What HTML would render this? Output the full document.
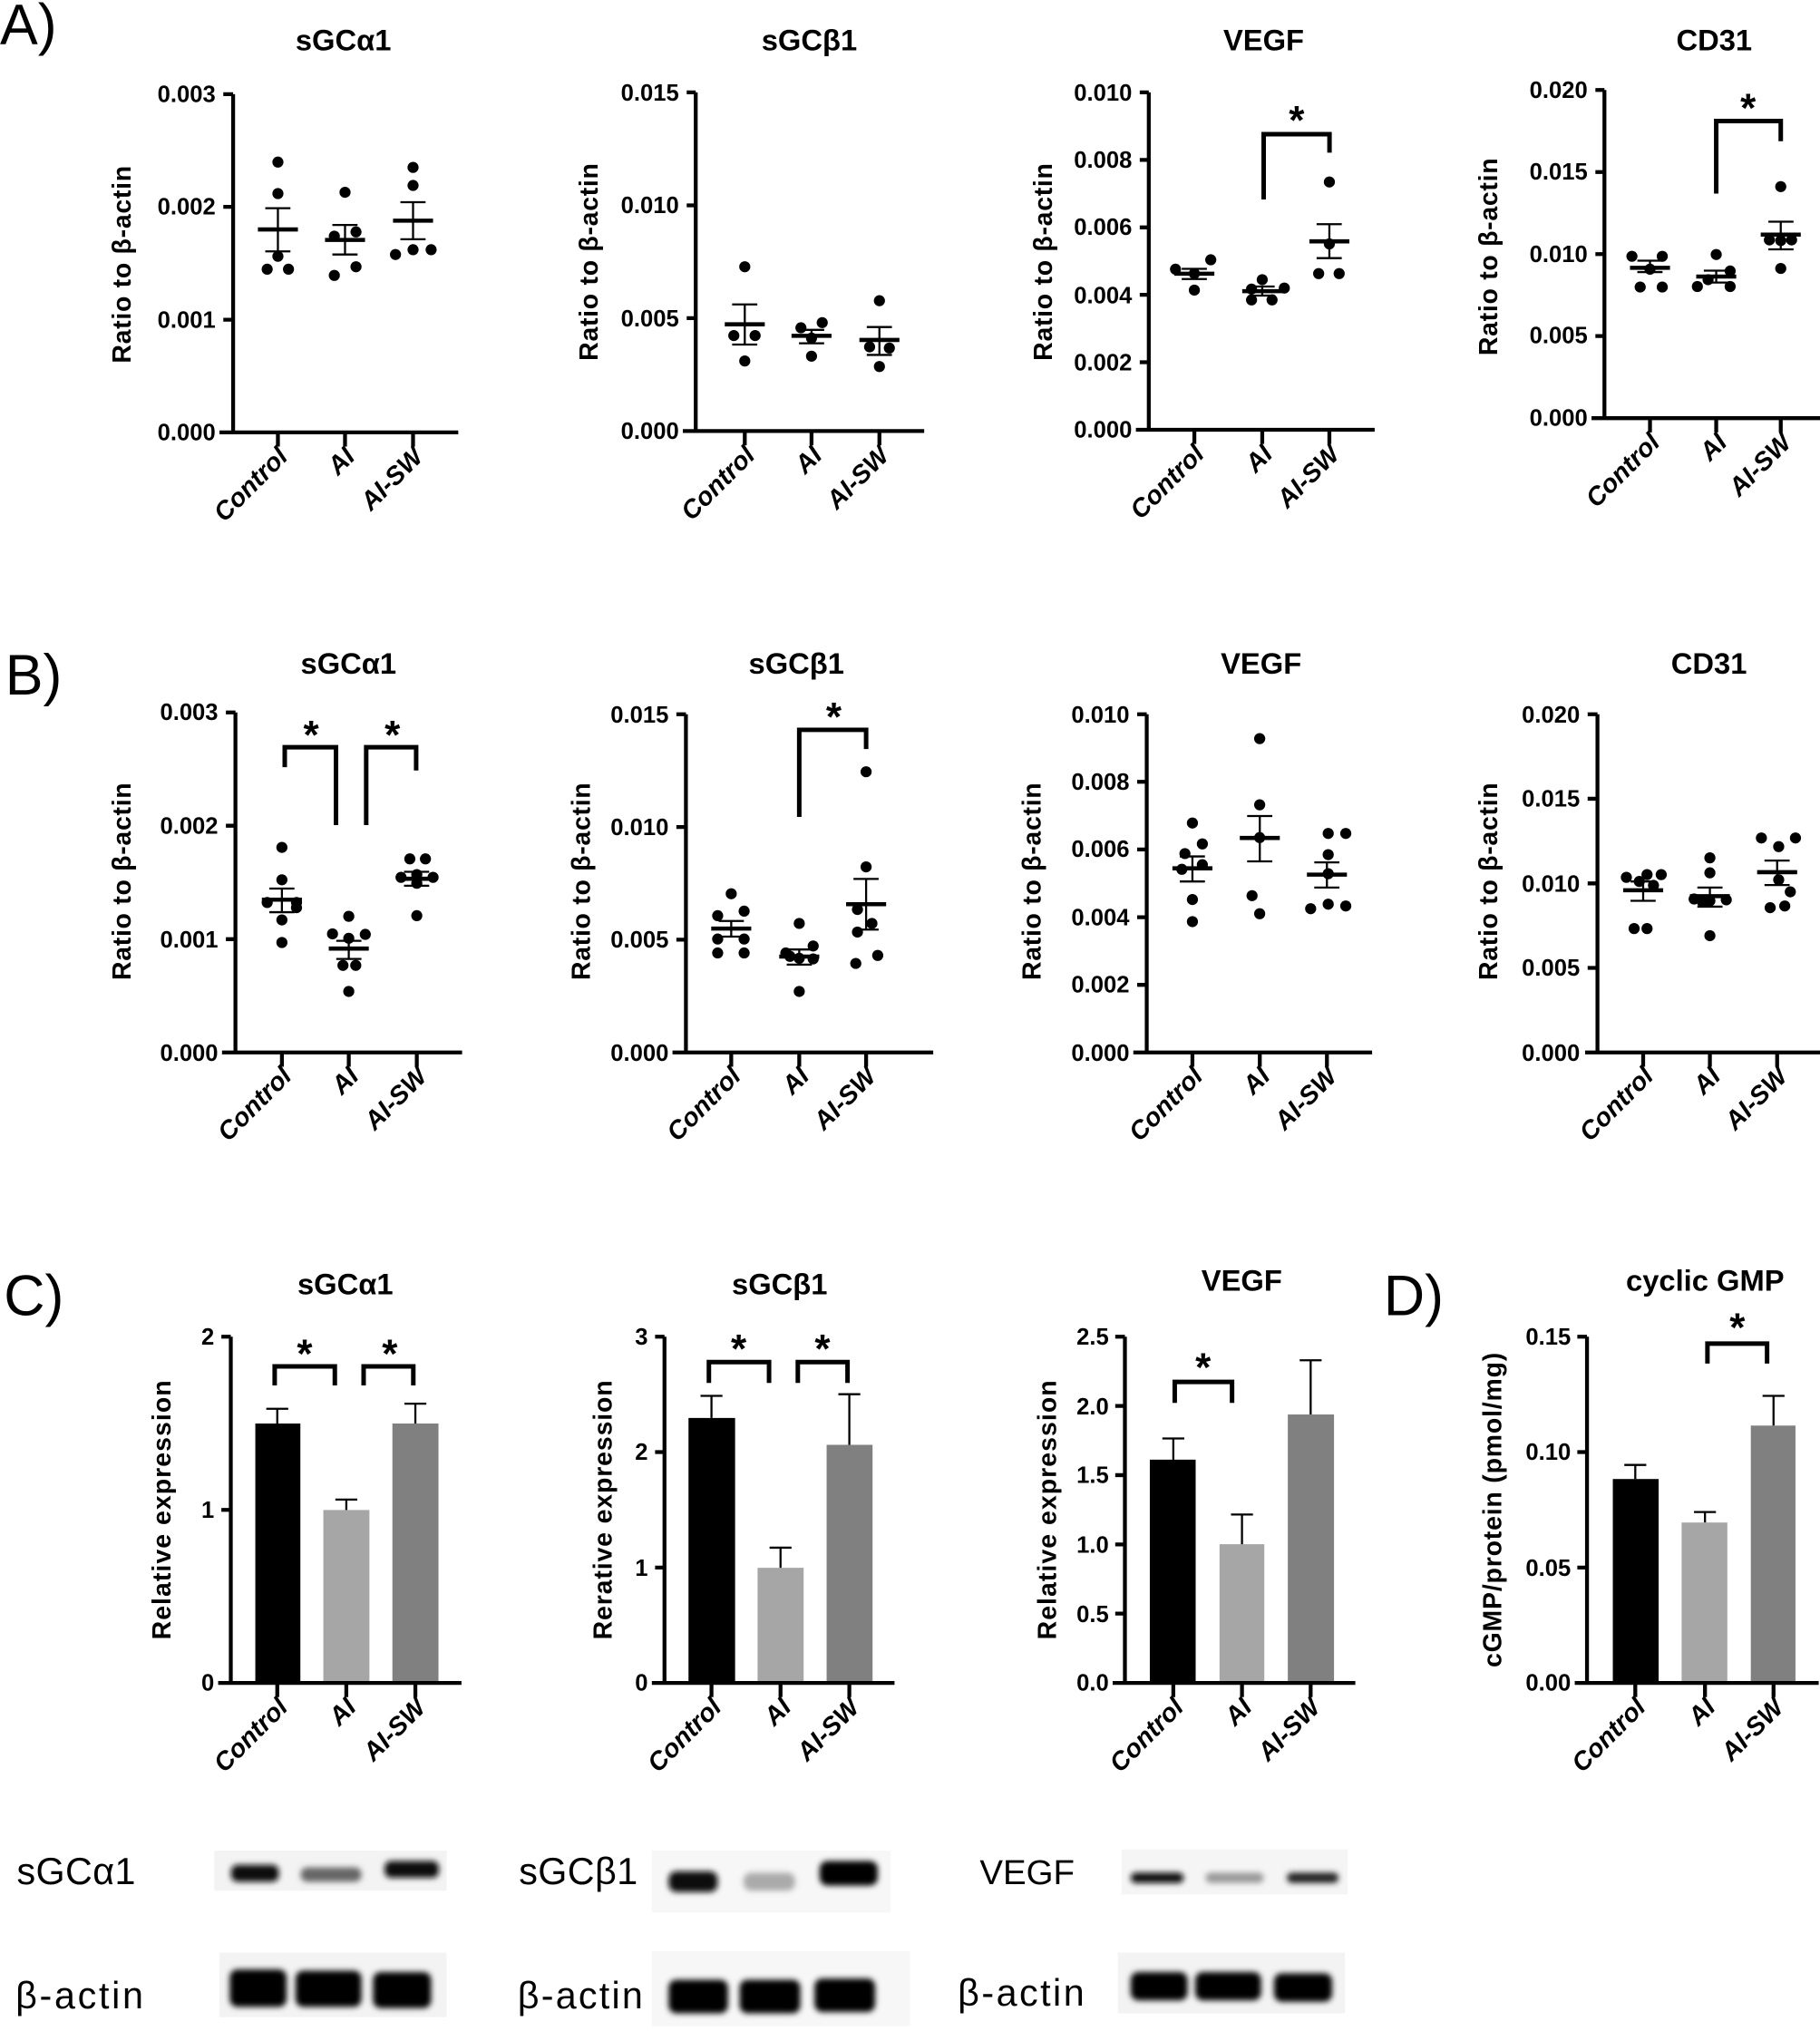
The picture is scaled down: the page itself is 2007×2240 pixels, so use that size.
<!DOCTYPE html>
<html><head><meta charset="utf-8"><style>
html,body{margin:0;padding:0;background:#fff}
svg{display:block}
text{font-family:"Liberation Sans",sans-serif}
.tk{font-size:18px;font-weight:bold;text-anchor:end}
.ti{font-size:23px;font-weight:bold;text-anchor:middle}
.yl{font-size:20px;font-weight:bold;text-anchor:middle}
.ct{font-size:20px;font-weight:bold;font-style:italic;text-anchor:end}
.st{font-size:31px;font-weight:bold;text-anchor:middle}
.pl{font-size:44px;font-weight:normal}
.bl{font-size:29px}
.ax{stroke:#000;stroke-width:3;fill:none}
.eb{stroke:#000;stroke-width:1.6;fill:none}
.mn{stroke:#000;stroke-width:3.2}
.br{stroke:#000;stroke-width:3.5;fill:none}
</style></head><body>
<svg xmlns="http://www.w3.org/2000/svg" width="2007" height="2240" viewBox="0 0 1410 1573.7">
<defs><filter id="bl" x="-20%" y="-50%" width="140%" height="200%"><feGaussianBlur stdDeviation="2.2"/></filter></defs>
<rect width="1410" height="1574" fill="#fff"/>

<text class="pl" x="0" y="34">A)</text>
<text class="pl" x="4" y="538">B)</text>
<text class="pl" x="3" y="1019">C)</text>
<text class="pl" x="1072" y="1019">D)</text>

<!-- A1 -->
<text class="ti" x="266" y="39">sGCα1</text>
<path class="ax" d="M180.6 73V335M170 335H355M173 73H180.6M173 160.3H180.6M173 247.7H180.6M215.3 335v11M267.3 335v11M320 335v11"/>
<text class="tk" x="167" y="79">0.003</text><text class="tk" x="167" y="166">0.002</text><text class="tk" x="167" y="254">0.001</text><text class="tk" x="167" y="341">0.000</text>
<text class="yl" transform="translate(101,205) rotate(-90)" textLength="153">Ratio to β-actin</text>
<text class="ct" transform="translate(224,355) rotate(-45)">Control</text>
<text class="ct" transform="translate(276,355) rotate(-45)">AI</text>
<text class="ct" transform="translate(329,355) rotate(-45)">AI-SW</text>
<g fill="#000">
<circle cx="215.3" cy="125.6" r="4.3"/><circle cx="215.3" cy="150" r="4.3"/><circle cx="215.3" cy="198.6" r="4.3"/><circle cx="207" cy="208.6" r="4.3"/><circle cx="223.5" cy="208.6" r="4.3"/>
<circle cx="267.3" cy="149" r="4.3"/><circle cx="259" cy="183" r="4.3"/><circle cx="275.8" cy="179.7" r="4.3"/><circle cx="259" cy="213.4" r="4.3"/><circle cx="275.8" cy="206.7" r="4.3"/>
<circle cx="320" cy="129.7" r="4.3"/><circle cx="320" cy="143.7" r="4.3"/><circle cx="306.4" cy="197.2" r="4.3"/><circle cx="320" cy="193.5" r="4.3"/><circle cx="334" cy="193.5" r="4.3"/>
</g>
<path class="eb" d="M215.3 161.3V194.8M205.5 161.3h19.5M205.5 194.8h19.5M267.3 174.3V197.2M257.5 174.3h19.5M257.5 197.2h19.5M320 156.7V185.4M310.2 156.7h19.5M310.2 185.4h19.5"/>
<path class="mn" d="M199.8 177.8h31M251.8 185.9h31M304.5 171h31"/>

<!-- A2 -->
<text class="ti" x="627" y="39">sGCβ1</text>
<path class="ax" d="M539 71.6V334M529 334H716M532 71.6H539M532 159.1H539M532 246.5H539M577 334v11M628.7 334v11M681.3 334v11"/>
<text class="tk" x="526" y="78">0.015</text><text class="tk" x="526" y="165">0.010</text><text class="tk" x="526" y="253">0.005</text><text class="tk" x="526" y="340">0.000</text>
<text class="yl" transform="translate(463,203) rotate(-90)" textLength="153">Ratio to β-actin</text>
<text class="ct" transform="translate(586,354) rotate(-45)">Control</text>
<text class="ct" transform="translate(638,354) rotate(-45)">AI</text>
<text class="ct" transform="translate(690,354) rotate(-45)">AI-SW</text>
<g fill="#000">
<circle cx="577" cy="206.7" r="4.3"/><circle cx="568.5" cy="260" r="4.3"/><circle cx="585" cy="260" r="4.3"/><circle cx="577" cy="279.7" r="4.3"/>
<circle cx="620.5" cy="254" r="4.3"/><circle cx="637" cy="250" r="4.3"/><circle cx="628.7" cy="276" r="4.3"/><circle cx="628.7" cy="262" r="4.3"/>
<circle cx="681.3" cy="233" r="4.3"/><circle cx="673.7" cy="268.8" r="4.3"/><circle cx="689" cy="269.7" r="4.3"/><circle cx="681.3" cy="284" r="4.3"/>
</g>
<path class="eb" d="M577 235.9V267M567.2 235.9h19.5M567.2 267h19.5M628.7 255.6V266M619 255.6h19.5M619 266h19.5M681.3 253.4V275M671.5 253.4h19.5M671.5 275h19.5"/>
<path class="mn" d="M561.5 251.3h31M613.2 260.2h31M665.8 263.4h31"/>

<!-- A3 -->
<text class="ti" x="979" y="39">VEGF</text>
<path class="ax" d="M890 71.6V333M880 333H1065M883 71.6H890M883 123.9H890M883 176.2H890M883 228.4H890M883 280.7H890M925.3 333v11M977.9 333v11M1029.9 333v11"/>
<text class="tk" x="877" y="78">0.010</text><text class="tk" x="877" y="130">0.008</text><text class="tk" x="877" y="182">0.006</text><text class="tk" x="877" y="235">0.004</text><text class="tk" x="877" y="287">0.002</text><text class="tk" x="877" y="339">0.000</text>
<text class="yl" transform="translate(815,203) rotate(-90)" textLength="153">Ratio to β-actin</text>
<text class="ct" transform="translate(934,353) rotate(-45)">Control</text>
<text class="ct" transform="translate(987,353) rotate(-45)">AI</text>
<text class="ct" transform="translate(1039,353) rotate(-45)">AI-SW</text>
<g fill="#000">
<circle cx="910.7" cy="208.6" r="4.3"/><circle cx="938" cy="201.3" r="4.3"/><circle cx="925.3" cy="212" r="4.3"/><circle cx="925.3" cy="224.8" r="4.3"/>
<circle cx="977.9" cy="216.7" r="4.3"/><circle cx="995" cy="223.2" r="4.3"/><circle cx="969.6" cy="232.4" r="4.3"/><circle cx="985.5" cy="232.4" r="4.3"/><circle cx="969.6" cy="224" r="4.3"/>
<circle cx="1029.9" cy="141" r="4.3"/><circle cx="1029.9" cy="189" r="4.3"/><circle cx="1021.6" cy="212" r="4.3"/><circle cx="1037.5" cy="212" r="4.3"/>
</g>
<path class="eb" d="M925.3 208.3V216.2M915.5 208.3h19.5M915.5 216.2h19.5M977.9 222V229M968 222h19.5M968 229h19.5M1029.9 173.7V200M1020 173.7h19.5M1020 200h19.5"/>
<path class="mn" d="M909.8 212.1h31M962.4 225.6h31M1014.4 187h31"/>
<path class="br" d="M979 154.6V104H1030V118.3"/>
<text class="st" x="1004.5" y="103.5">*</text>

<!-- A4 -->
<text class="ti" x="1328" y="39">CD31</text>
<path class="ax" d="M1243 69.7V324M1233 324H1410M1236 69.7H1243M1236 133.3H1243M1236 196.9H1243M1236 260.4H1243M1278.3 324v11M1329.6 324v11M1379.6 324v11"/>
<text class="tk" x="1230" y="76">0.020</text><text class="tk" x="1230" y="139">0.015</text><text class="tk" x="1230" y="203">0.010</text><text class="tk" x="1230" y="266">0.005</text><text class="tk" x="1230" y="330">0.000</text>
<text class="yl" transform="translate(1160,199) rotate(-90)" textLength="153">Ratio to β-actin</text>
<text class="ct" transform="translate(1287,344) rotate(-45)">Control</text>
<text class="ct" transform="translate(1339,344) rotate(-45)">AI</text>
<text class="ct" transform="translate(1389,344) rotate(-45)">AI-SW</text>
<g fill="#000">
<circle cx="1264.3" cy="198.6" r="4.3"/><circle cx="1287.8" cy="198.6" r="4.3"/><circle cx="1278.3" cy="208.6" r="4.3"/><circle cx="1270.7" cy="222.4" r="4.3"/><circle cx="1287.8" cy="222.4" r="4.3"/>
<circle cx="1329.6" cy="197.2" r="4.3"/><circle cx="1315" cy="222" r="4.3"/><circle cx="1340.4" cy="222" r="4.3"/><circle cx="1323.3" cy="216.7" r="4.3"/><circle cx="1340.4" cy="210" r="4.3"/>
<circle cx="1379.6" cy="144.6" r="4.3"/><circle cx="1379.6" cy="186.4" r="4.3"/><circle cx="1370.8" cy="185.9" r="4.3"/><circle cx="1388" cy="185.9" r="4.3"/><circle cx="1379.6" cy="208" r="4.3"/>
</g>
<path class="eb" d="M1278.3 202V210.8M1268.5 202h19.5M1268.5 210.8h19.5M1329.6 209.7V218.9M1320 209.7h19.5M1320 218.9h19.5M1379.6 171.8V193.2M1370 171.8h19.5M1370 193.2h19.5"/>
<path class="mn" d="M1262.8 207.5h31M1314.1 214.3h31M1364.1 181.8h31"/>
<path class="br" d="M1329.6 150V93.8H1379.6V109.4"/>
<text class="st" x="1354.3" y="94">*</text>

<!-- B1 -->
<text class="ti" x="270" y="522">sGCα1</text>
<path class="ax" d="M182.4 552V815.5M172 815.5H358M175 552H182.4M175 639.8H182.4M175 727.7H182.4M218.4 815.5v11M270.2 815.5v11M322.9 815.5v11"/>
<text class="tk" x="169" y="558">0.003</text><text class="tk" x="169" y="646">0.002</text><text class="tk" x="169" y="734">0.001</text><text class="tk" x="169" y="822">0.000</text>
<text class="yl" transform="translate(101,683) rotate(-90)" textLength="153">Ratio to β-actin</text>
<text class="ct" transform="translate(227,835) rotate(-45)">Control</text>
<text class="ct" transform="translate(279,835) rotate(-45)">AI</text>
<text class="ct" transform="translate(332,835) rotate(-45)">AI-SW</text>
<g fill="#000">
<circle cx="218.4" cy="656.6" r="4.3"/><circle cx="218.4" cy="681.7" r="4.3"/><circle cx="207" cy="699.3" r="4.3"/><circle cx="229.7" cy="699.3" r="4.3"/><circle cx="218.4" cy="712.8" r="4.3"/><circle cx="229.7" cy="703.3" r="4.3"/><circle cx="218.4" cy="730.3" r="4.3"/>
<circle cx="270.2" cy="710" r="4.3"/><circle cx="257.6" cy="723.6" r="4.3"/><circle cx="283" cy="724" r="4.3"/><circle cx="265.7" cy="748" r="4.3"/><circle cx="275.6" cy="748" r="4.3"/><circle cx="270.2" cy="768.2" r="4.3"/><circle cx="270.2" cy="727" r="4.3"/>
<circle cx="317.5" cy="665.5" r="4.3"/><circle cx="329.6" cy="665.5" r="4.3"/><circle cx="322.9" cy="677.7" r="4.3"/><circle cx="310.7" cy="679.8" r="4.3"/><circle cx="335.5" cy="679.8" r="4.3"/><circle cx="322.9" cy="684.4" r="4.3"/><circle cx="322.9" cy="709.5" r="4.3"/>
</g>
<path class="eb" d="M218.4 688.5V706.8M208.6 688.5h19.5M208.6 706.8h19.5M270.2 729V743M260.5 729h19.5M260.5 743h19.5M322.9 675.5V686.3M313 675.5h19.5M313 686.3h19.5"/>
<path class="mn" d="M202.9 697.1h31M254.7 735h31M307.4 680.9h31"/>
<path class="br" d="M220.6 594.4V579H260.3V639.3M283.7 639.3V579H322.4V597"/>
<text class="st" x="241" y="580">*</text><text class="st" x="304" y="580">*</text>

<!-- B2 -->
<text class="ti" x="617" y="522">sGCβ1</text>
<path class="ax" d="M531.4 553.4V815.5M521 815.5H723M524 553.4H531.4M524 640.8H531.4M524 728.1H531.4M566.5 815.5v11M619.2 815.5v11M671 815.5v11"/>
<text class="tk" x="518" y="560">0.015</text><text class="tk" x="518" y="647">0.010</text><text class="tk" x="518" y="734">0.005</text><text class="tk" x="518" y="822">0.000</text>
<text class="yl" transform="translate(457,683) rotate(-90)" textLength="153">Ratio to β-actin</text>
<text class="ct" transform="translate(575,835) rotate(-45)">Control</text>
<text class="ct" transform="translate(628,835) rotate(-45)">AI</text>
<text class="ct" transform="translate(680,835) rotate(-45)">AI-SW</text>
<g fill="#000">
<circle cx="566.5" cy="692.5" r="4.3"/><circle cx="576.5" cy="706" r="4.3"/><circle cx="556" cy="709.5" r="4.3"/><circle cx="556" cy="727.6" r="4.3"/><circle cx="576.5" cy="727.6" r="4.3"/><circle cx="556" cy="738.4" r="4.3"/><circle cx="576.5" cy="738.4" r="4.3"/>
<circle cx="619.2" cy="715.5" r="4.3"/><circle cx="608.8" cy="738.4" r="4.3"/><circle cx="630" cy="733" r="4.3"/><circle cx="619.2" cy="742.5" r="4.3"/><circle cx="630" cy="743" r="4.3"/><circle cx="619.2" cy="768.2" r="4.3"/><circle cx="612" cy="741" r="4.3"/>
<circle cx="671" cy="598" r="4.3"/><circle cx="671" cy="671.7" r="4.3"/><circle cx="664.3" cy="704.7" r="4.3"/><circle cx="675.5" cy="715.5" r="4.3"/><circle cx="664.3" cy="722.2" r="4.3"/><circle cx="663" cy="746.5" r="4.3"/><circle cx="680" cy="740.3" r="4.3"/>
</g>
<path class="eb" d="M566.5 713.6V725.7M556.8 713.6h19.5M556.8 725.7h19.5M619.2 735.7V747.4M609.5 735.7h19.5M609.5 747.4h19.5M671 681V720.3M661.2 681h19.5M661.2 720.3h19.5"/>
<path class="mn" d="M551 719.5h31M603.7 741.2h31M655.5 700.6h31"/>
<path class="br" d="M619.2 633V565.5H671V580.4"/>
<text class="st" x="646" y="566">*</text>

<!-- B3 -->
<text class="ti" x="977" y="522">VEGF</text>
<path class="ax" d="M888.4 553.4V815.5M878 815.5H1063M881 553.4H888.4M881 605.8H888.4M881 658.2H888.4M881 710.7H888.4M881 763.1H888.4M923.8 815.5v11M976 815.5v11M1028 815.5v11"/>
<text class="tk" x="875" y="560">0.010</text><text class="tk" x="875" y="612">0.008</text><text class="tk" x="875" y="664">0.006</text><text class="tk" x="875" y="717">0.004</text><text class="tk" x="875" y="769">0.002</text><text class="tk" x="875" y="822">0.000</text>
<text class="yl" transform="translate(806,683) rotate(-90)" textLength="153">Ratio to β-actin</text>
<text class="ct" transform="translate(933,835) rotate(-45)">Control</text>
<text class="ct" transform="translate(985,835) rotate(-45)">AI</text>
<text class="ct" transform="translate(1037,835) rotate(-45)">AI-SW</text>
<g fill="#000">
<circle cx="923.8" cy="637.7" r="4.3"/><circle cx="931.5" cy="653.9" r="4.3"/><circle cx="918" cy="661.4" r="4.3"/><circle cx="931.5" cy="670" r="4.3"/><circle cx="915.6" cy="673.6" r="4.3"/><circle cx="923.8" cy="697" r="4.3"/><circle cx="923.8" cy="714.1" r="4.3"/>
<circle cx="975.9" cy="572.3" r="4.3"/><circle cx="975.9" cy="623.6" r="4.3"/><circle cx="975.9" cy="649" r="4.3"/><circle cx="970" cy="694" r="4.3"/><circle cx="975.9" cy="708" r="4.3"/>
<circle cx="1029" cy="645.8" r="4.3"/><circle cx="1042.6" cy="645.8" r="4.3"/><circle cx="1029" cy="662.2" r="4.3"/><circle cx="1029" cy="677" r="4.3"/><circle cx="1015.4" cy="704.1" r="4.3"/><circle cx="1029" cy="700.6" r="4.3"/><circle cx="1042.6" cy="702" r="4.3"/>
</g>
<path class="eb" d="M923.8 663.6V683M914 663.6h19.5M914 683h19.5M976 632.3V667.4M966.2 632.3h19.5M966.2 667.4h19.5M1028 668.2V687.7M1018.2 668.2h19.5M1018.2 687.7h19.5"/>
<path class="mn" d="M908.3 672.8h31M960.5 649.3h31M1012.5 677.7h31"/>

<!-- B4 -->
<text class="ti" x="1324" y="522">CD31</text>
<path class="ax" d="M1237.6 553.4V815.5M1228 815.5H1410M1230 553.4H1237.6M1230 618.9H1237.6M1230 684.5H1237.6M1230 750H1237.6M1273 815.5v11M1324.7 815.5v11M1376.8 815.5v11"/>
<text class="tk" x="1224" y="560">0.020</text><text class="tk" x="1224" y="625">0.015</text><text class="tk" x="1224" y="691">0.010</text><text class="tk" x="1224" y="756">0.005</text><text class="tk" x="1224" y="822">0.000</text>
<text class="yl" transform="translate(1160,683) rotate(-90)" textLength="153">Ratio to β-actin</text>
<text class="ct" transform="translate(1282,835) rotate(-45)">Control</text>
<text class="ct" transform="translate(1334,835) rotate(-45)">AI</text>
<text class="ct" transform="translate(1386,835) rotate(-45)">AI-SW</text>
<g fill="#000">
<circle cx="1260" cy="679.8" r="4.3"/><circle cx="1276" cy="677.7" r="4.3"/><circle cx="1287" cy="677.7" r="4.3"/><circle cx="1270" cy="683" r="4.3"/><circle cx="1281" cy="686" r="4.3"/><circle cx="1266" cy="719.5" r="4.3"/><circle cx="1276" cy="719.5" r="4.3"/>
<circle cx="1324.7" cy="664.7" r="4.3"/><circle cx="1324.7" cy="676.3" r="4.3"/><circle cx="1312.5" cy="696.6" r="4.3"/><circle cx="1324.7" cy="698" r="4.3"/><circle cx="1337.4" cy="697.2" r="4.3"/><circle cx="1324.7" cy="725" r="4.3"/><circle cx="1319" cy="699" r="4.3"/>
<circle cx="1364.6" cy="649.3" r="4.3"/><circle cx="1378" cy="656" r="4.3"/><circle cx="1391" cy="649.3" r="4.3"/><circle cx="1378" cy="681.7" r="4.3"/><circle cx="1371.4" cy="703.3" r="4.3"/><circle cx="1382.7" cy="702" r="4.3"/><circle cx="1387" cy="691" r="4.3"/>
</g>
<path class="eb" d="M1273 683V698M1263.2 683h19.5M1263.2 698h19.5M1324.7 687.7V702.5M1315 687.7h19.5M1315 702.5h19.5M1376.8 666.8V685.8M1367 666.8h19.5M1367 685.8h19.5"/>
<path class="mn" d="M1257.5 689.8h31M1309.2 694.4h31M1361.3 675.8h31"/>

<!-- C1 -->
<text class="ti" x="267.5" y="1003">sGCα1</text>
<rect x="197.8" y="1103" width="34.9" height="201" fill="#000"/>
<rect x="250.5" y="1170" width="35.7" height="134" fill="#a6a6a6"/>
<rect x="304" y="1103" width="35.7" height="201" fill="#808080"/>
<path class="eb" d="M214.8 1103V1091.6M206.3 1091.6h17M268.3 1170V1161.9M259.8 1161.9h17M321.8 1103V1087.6M313.3 1087.6h17"/>
<path class="ax" d="M178.8 1035.7V1304M169 1304H357.5M171.5 1035.7H178.8M171.5 1169.9H178.8M214.8 1304v11M268.3 1304v11M321.8 1304v11"/>
<text class="tk" x="166" y="1042">2</text><text class="tk" x="166" y="1176">1</text><text class="tk" x="166" y="1310">0</text>
<text class="yl" transform="translate(132,1170) rotate(-90)" textLength="201">Relative expression</text>
<text class="ct" transform="translate(224,1324) rotate(-45)">Control</text>
<text class="ct" transform="translate(277,1324) rotate(-45)">AI</text>
<text class="ct" transform="translate(331,1324) rotate(-45)">AI-SW</text>
<path class="br" d="M212.8 1073.5V1058.7H259.4V1073.5M281.7 1073.5V1058.7H320.2V1073.5"/>
<text class="st" x="236" y="1059.5">*</text><text class="st" x="302" y="1059.5">*</text>

<!-- C2 -->
<text class="ti" x="604" y="1003">sGCβ1</text>
<rect x="533.4" y="1098.7" width="36.1" height="205.3" fill="#000"/>
<rect x="586.9" y="1214.8" width="35.7" height="89.2" fill="#a6a6a6"/>
<rect x="640.4" y="1119.5" width="35.6" height="184.5" fill="#808080"/>
<path class="eb" d="M551.2 1098.7V1081.6M542.7 1081.6h17M604.7 1214.8V1199.2M596.2 1199.2h17M658 1119.5V1080.3M649.5 1080.3h17"/>
<path class="ax" d="M514.8 1035.7V1304M505 1304H693M507.5 1035.7H514.8M507.5 1125.1H514.8M507.5 1214.6H514.8M551.2 1304v11M604.7 1304v11M658 1304v11"/>
<text class="tk" x="502" y="1042">3</text><text class="tk" x="502" y="1131">2</text><text class="tk" x="502" y="1221">1</text><text class="tk" x="502" y="1310">0</text>
<text class="yl" transform="translate(474,1170) rotate(-90)" textLength="201">Rerative expression</text>
<text class="ct" transform="translate(560,1324) rotate(-45)">Control</text>
<text class="ct" transform="translate(614,1324) rotate(-45)">AI</text>
<text class="ct" transform="translate(667,1324) rotate(-45)">AI-SW</text>
<path class="br" d="M549.2 1071.6V1055.4H595.8V1071.6M618.1 1071.6V1055.4H656.6V1071.6"/>
<text class="st" x="572.3" y="1055.5">*</text><text class="st" x="637.2" y="1055.5">*</text>

<!-- C3 -->
<text class="ti" x="962" y="1000">VEGF</text>
<rect x="890.8" y="1131" width="35.5" height="173" fill="#000"/>
<rect x="944.8" y="1196.5" width="34.7" height="107.5" fill="#a6a6a6"/>
<rect x="997.7" y="1096" width="35.8" height="208" fill="#808080"/>
<path class="eb" d="M909 1131V1114.6M900.5 1114.6h17M962.2 1196.5V1173.5M953.7 1173.5h17M1015.4 1096V1054M1006.9 1054h17"/>
<path class="ax" d="M871.5 1035.7V1304M862 1304H1050M864 1035.7H871.5M864 1089.4H871.5M864 1143H871.5M864 1196.7H871.5M864 1250.3H871.5M909 1304v11M962.2 1304v11M1015.4 1304v11"/>
<text class="tk" x="859" y="1042">2.5</text><text class="tk" x="859" y="1096">2.0</text><text class="tk" x="859" y="1149">1.5</text><text class="tk" x="859" y="1203">1.0</text><text class="tk" x="859" y="1257">0.5</text><text class="tk" x="859" y="1310">0.0</text>
<text class="yl" transform="translate(818,1170) rotate(-90)" textLength="201">Relative expression</text>
<text class="ct" transform="translate(918,1324) rotate(-45)">Control</text>
<text class="ct" transform="translate(971,1324) rotate(-45)">AI</text>
<text class="ct" transform="translate(1024,1324) rotate(-45)">AI-SW</text>
<path class="br" d="M910.1 1087V1070.8H954.5V1087"/>
<text class="st" x="932.1" y="1070">*</text>

<!-- D -->
<text class="ti" x="1321" y="1000">cyclic GMP</text>
<rect x="1249.5" y="1146" width="35.5" height="158" fill="#000"/>
<rect x="1302.8" y="1179.7" width="35.4" height="124.3" fill="#a6a6a6"/>
<rect x="1356.4" y="1104.6" width="34.6" height="199.4" fill="#808080"/>
<path class="eb" d="M1266.9 1146V1135.1M1258.4 1135.1h17M1320.9 1179.7V1171.6M1312.4 1171.6h17M1374 1104.6V1081.6M1365.5 1081.6h17"/>
<path class="ax" d="M1229.5 1035.7V1304M1220 1304H1409M1222 1035.7H1229.5M1222 1125.1H1229.5M1222 1214.6H1229.5M1266.9 1304v11M1320.9 1304v11M1374 1304v11"/>
<text class="tk" x="1217" y="1042">0.15</text><text class="tk" x="1217" y="1131">0.10</text><text class="tk" x="1217" y="1221">0.05</text><text class="tk" x="1217" y="1310">0.00</text>
<text class="yl" transform="translate(1163,1170) rotate(-90)" textLength="244">cGMP/protein (pmol/mg)</text>
<text class="ct" transform="translate(1276,1324) rotate(-45)">Control</text>
<text class="ct" transform="translate(1330,1324) rotate(-45)">AI</text>
<text class="ct" transform="translate(1383,1324) rotate(-45)">AI-SW</text>
<path class="br" d="M1322.8 1056.5V1041.1H1369V1056.5"/>
<text class="st" x="1346" y="1039">*</text>

<!-- Blots -->
<rect x="166" y="1434" width="180" height="31" fill="#f3f3f3"/>
<rect x="170" y="1513" width="176" height="50" fill="#f3f3f3"/>
<rect x="505" y="1434" width="185" height="48" fill="#f7f7f7"/>
<rect x="505" y="1512" width="200" height="58" fill="#f7f7f7"/>
<rect x="869" y="1433" width="175" height="35" fill="#f5f5f5"/>
<rect x="866" y="1513" width="176" height="47" fill="#f3f3f3"/>
<g filter="url(#bl)">
<rect x="179" y="1445" width="37" height="13" rx="5" fill="#111"/>
<rect x="233" y="1447" width="47" height="11" rx="5" fill="#666"/>
<rect x="298" y="1442" width="42" height="13" rx="5" fill="#0a0a0a"/>
<rect x="178" y="1526" width="44" height="29" rx="6" fill="#000"/>
<rect x="229" y="1527" width="51" height="28" rx="6" fill="#000"/>
<rect x="289" y="1528" width="45" height="28" rx="6" fill="#000"/>
<rect x="518" y="1450" width="38" height="16" rx="6" fill="#0a0a0a"/>
<rect x="576" y="1451" width="40" height="14" rx="6" fill="#aaa"/>
<rect x="635" y="1442" width="45" height="19" rx="6" fill="#000"/>
<rect x="518" y="1534" width="46" height="26" rx="6" fill="#000"/>
<rect x="573" y="1534" width="47" height="26" rx="6" fill="#000"/>
<rect x="631" y="1533" width="47" height="26" rx="6" fill="#000"/>
<rect x="876" y="1451" width="41" height="8" rx="4" fill="#0a0a0a"/>
<rect x="934" y="1451" width="45" height="8" rx="4" fill="#999"/>
<rect x="997" y="1451" width="40" height="8" rx="4" fill="#222"/>
<rect x="876" y="1528" width="44" height="22" rx="6" fill="#000"/>
<rect x="926" y="1528" width="51" height="22" rx="6" fill="#000"/>
<rect x="987" y="1529" width="45" height="22" rx="6" fill="#000"/>
</g>
<text class="bl" x="13" y="1460" textLength="92">sGCα1</text>
<text class="bl" x="12" y="1556" textLength="99">β-actin</text>
<text class="bl" x="402" y="1460" textLength="92">sGCβ1</text>
<text class="bl" x="401" y="1556" textLength="97">β-actin</text>
<text class="bl" x="759" y="1460" style="font-size:27px">VEGF</text>
<text class="bl" x="742" y="1554" textLength="98">β-actin</text>
</svg>
</body></html>
